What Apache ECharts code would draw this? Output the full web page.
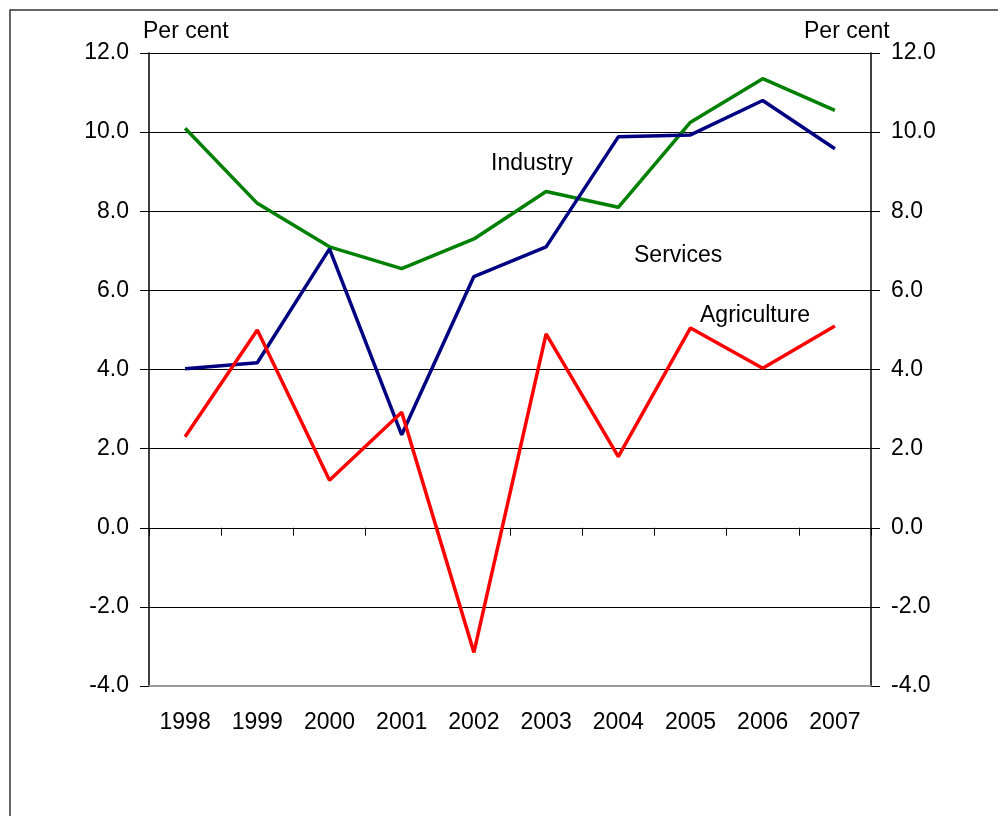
<!DOCTYPE html>
<html>
<head>
<meta charset="utf-8">
<script src="https://cdn.jsdelivr.net/npm/echarts@6/dist/echarts.min.js"></script>
<style>
  html, body { margin: 0; padding: 0; background: #fff; }
  #chart { width: 998px; height: 816px; }
</style>
</head>
<body>
<div id="chart"></div>
<script>
// data
const years = ['1998', '1999', '2000', '2001', '2002', '2003', '2004', '2005', '2006', '2007'];
const services = [10.1, 8.2, 7.1, 6.55, 7.3, 8.5, 8.1, 10.25, 11.35, 10.55];
const industry = [4.02, 4.17, 7.05, 2.35, 6.35, 7.1, 9.88, 9.93, 10.8, 9.58];
const agriculture = [2.3, 5.0, 1.2, 2.92, -3.15, 4.9, 1.8, 5.05, 4.03, 5.1];

const font = 'Liberation Sans, Arial, sans-serif';
const fs = 23;
const chart = echarts.init(document.getElementById('chart'));

const yAxisBase = {
  type: 'value',
  min: -4,
  max: 12,
  interval: 2,
  axisLine: { show: true, lineStyle: { color: '#000', width: 1.5 } },
  axisTick: { show: true, length: 9, lineStyle: { color: '#000' } },
  axisLabel: {
    margin: 20, color: '#000', fontSize: fs, fontFamily: font,
    formatter: v => v.toFixed(1)
  }
};

chart.setOption({
  animation: false,
  backgroundColor: '#fff',
  grid: { left: 149, right: 127, top: 53, bottom: 130 },
  xAxis: [
    {
      // labels under the plot
      type: 'category',
      data: years,
      boundaryGap: true,
      axisLine: { onZero: false, lineStyle: { color: '#999', width: 2 } },
      axisTick: { show: false },
      axisLabel: { margin: 25, color: '#000', fontSize: fs, fontFamily: font }
    },
    {
      // axis line with ticks at zero
      type: 'category',
      data: years,
      position: 'bottom',
      boundaryGap: true,
      axisLine: { onZero: true, lineStyle: { color: '#000', width: 1 } },
      axisTick: { show: true, length: 8, lineStyle: { color: '#000' } },
      axisLabel: { show: false }
    }
  ],
  yAxis: [
    Object.assign({}, yAxisBase, {
      position: 'left',
      splitLine: { show: true, lineStyle: { color: '#000', width: 1 } }
    }),
    Object.assign({}, yAxisBase, {
      position: 'right',
      splitLine: { show: false }
    })
  ],
  series: [
    {
      name: 'Services', type: 'line', data: services,
      symbol: 'none', lineStyle: { color: '#008000', width: 3.5 }
    },
    {
      name: 'Industry', type: 'line', data: industry,
      symbol: 'none', lineStyle: { color: '#000080', width: 3.5 }
    },
    {
      name: 'Agriculture', type: 'line', data: agriculture,
      symbol: 'none', lineStyle: { color: '#ff0000', width: 3.5 }
    }
  ],
  graphic: [
    {
      type: 'rect', silent: true, z: -1,
      shape: { x: 10, y: 10, width: 1000, height: 820 },
      style: { fill: 'none', stroke: '#333', lineWidth: 1.5 }
    },
    { type: 'text', left: 143, top: 20, style: { text: 'Per cent', fontSize: fs, fontFamily: font, fill: '#000' } },
    { type: 'text', left: 804, top: 20, style: { text: 'Per cent', fontSize: fs, fontFamily: font, fill: '#000' } },
    { type: 'text', left: 491, top: 152, style: { text: 'Industry', fontSize: fs, fontFamily: font, fill: '#000' } },
    { type: 'text', left: 634, top: 244, style: { text: 'Services', fontSize: fs, fontFamily: font, fill: '#000' } },
    { type: 'text', left: 700, top: 304, style: { text: 'Agriculture', fontSize: fs, fontFamily: font, fill: '#000' } }
  ]
});
</script>
</body>
</html>
